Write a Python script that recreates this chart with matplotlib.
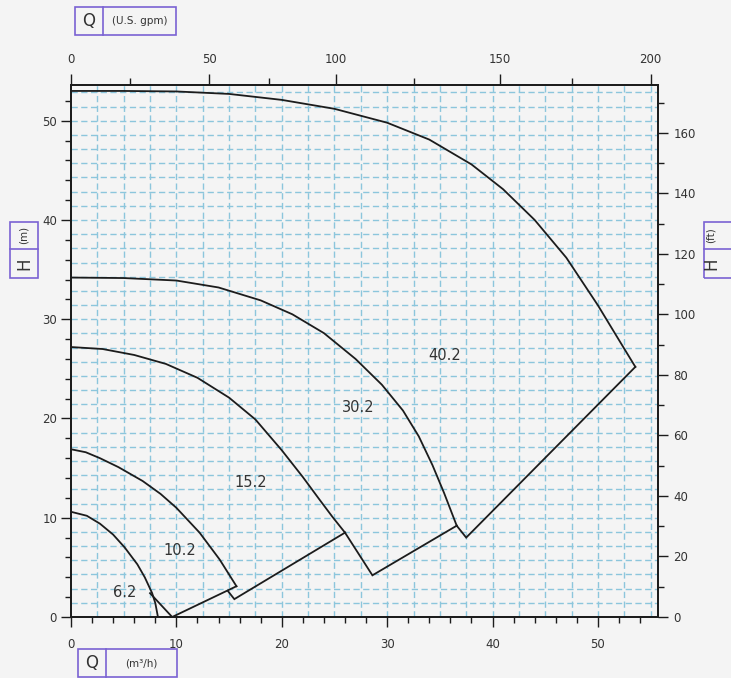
import numpy as np
import matplotlib
matplotlib.use("Agg")
import matplotlib.pyplot as plt
from matplotlib.patches import Rectangle
from matplotlib.ticker import FixedLocator, MultipleLocator

# ---- pump performance curves: flow Q (m3/h) vs head H (m) ----
q_402 = [0, 5, 10, 15, 20, 25, 30, 34, 38, 41, 44, 47, 50, 52, 53.55]
h_402 = [53.0, 53.0, 52.95, 52.7, 52.1, 51.2, 49.8, 48.1, 45.6, 43.1, 40.0, 36.2, 31.4, 27.9, 25.2]

q_302 = [0, 5, 10, 14, 18, 21, 24, 27, 29.5, 31.5, 33, 34.3, 35.4, 36.6]
h_302 = [34.2, 34.15, 33.9, 33.2, 31.9, 30.5, 28.6, 26.0, 23.4, 20.8, 18.2, 15.3, 12.5, 9.2]

q_152 = [0, 3, 6, 9, 12, 15, 17.5, 20, 22, 23.6, 24.8, 26.0]
h_152 = [27.2, 27.0, 26.4, 25.5, 24.1, 22.1, 19.9, 16.8, 14.1, 11.8, 10.1, 8.5]

q_102 = [0, 1.4, 2.75, 4.5, 6.8, 8.5, 10.0, 12.2, 14.1, 15.7]
h_102 = [16.9, 16.6, 16.0, 15.1, 13.7, 12.4, 11.0, 8.5, 5.8, 3.1]

q_62 = [0, 1.5, 2.75, 4.0, 5.1, 6.3, 7.0, 7.7, 8.0, 8.25]
h_62 = [10.6, 10.2, 9.4, 8.3, 7.0, 5.3, 4.0, 2.4, 1.4, 0.0]

# range boundary lines closing each model's operating area
q_402_edge = [53.55, 37.5, 36.6]
h_402_edge = [25.2, 8.0, 9.2]
q_302_edge = [36.6, 28.6, 26.0]
h_302_edge = [9.2, 4.2, 8.5]
q_152_edge = [26.0, 15.5, 14.9]
h_152_edge = [8.5, 1.8, 2.6]
q_102_edge = [15.7, 9.6, 7.5]
h_102_edge = [3.1, 0.0, 2.4]

model_names = ["40.2", "30.2", "15.2", "10.2", "6.2"]
label_q = [35.5, 27.3, 17.1, 10.3, 5.1]
label_h = [26.3, 21.1, 13.6, 6.7, 2.5]

# secondary flow scale in U.S. gpm, and where each tick falls on the m3/h scale
gpm_ticks = [0, 25, 50, 75, 100, 125, 150, 175, 200]
gpm_at_q = [0.0, 5.6, 13.1, 18.8, 25.1, 32.5, 40.7, 47.5, 55.0]
gpm_labels = ["0", "", "50", "", "100", "", "150", "", "200"]

Q_MAX = 55.7
H_MAX = 53.6
M_TO_FT = 3.2808

bg = "#f4f4f4"
ink = "#1c1c1c"
txt = "#333333"
grid_c = "#8cc6dc"
box_c = "#7a62d3"

plt.rcParams["font.family"] = ["DejaVu Sans"]

fig = plt.figure(figsize=(7.31, 6.78), dpi=100, facecolor=bg)
ax = fig.add_axes([71 / 731, 1 - 617 / 678, (658 - 71) / 731, (617 - 85) / 678])
ax.set_facecolor(bg)
ax.set_xlim(0, Q_MAX)
ax.set_ylim(0, H_MAX)

# dashed background grid
dash = (0, (4.5, 2.5))
for gx in np.arange(2.5, Q_MAX, 2.5):
    ax.axvline(gx, color=grid_c, lw=1.0, ls=dash, zorder=1, snap=True)
for gy in np.arange(10 / 7, H_MAX, 10 / 7):
    ax.axhline(gy, color=grid_c, lw=1.0, ls=dash, zorder=1, snap=True)

# curves and area outlines
for q, h in [(q_402, h_402), (q_302, h_302), (q_152, h_152), (q_102, h_102), (q_62, h_62)]:
    ax.plot(q, h, color=ink, lw=1.3, zorder=3, solid_joinstyle="round")
for q, h in [(q_402_edge, h_402_edge), (q_302_edge, h_302_edge),
             (q_152_edge, h_152_edge), (q_102_edge, h_102_edge)]:
    ax.plot(q, h, color=ink, lw=1.3, zorder=3, solid_joinstyle="miter")

for name, lq, lh in zip(model_names, label_q, label_h):
    ax.text(lq, lh, name, fontsize=10.5, color=txt, ha="center", va="center", zorder=4)

# axes styling
for s in ax.spines.values():
    s.set_color(ink)
    s.set_linewidth(1.2)
ax.xaxis.set_major_locator(MultipleLocator(10))
ax.xaxis.set_minor_locator(MultipleLocator(2))
ax.yaxis.set_major_locator(MultipleLocator(10))
ax.yaxis.set_minor_locator(MultipleLocator(2))
ax.tick_params(which="major", direction="out", length=7, width=1.0, colors=ink,
               labelcolor=txt, labelsize=8.5)
ax.tick_params(which="minor", direction="out", length=4, width=1.0, colors=ink)
ax.tick_params(axis="x", which="both", top=False, pad=8)
ax.tick_params(axis="y", which="both", right=False, pad=3)

# top: U.S. gpm
axt = ax.twiny()
axt.set_xlim(ax.get_xlim())
axt.xaxis.set_major_locator(FixedLocator(gpm_at_q))
axt.set_xticklabels(gpm_labels)
axt.tick_params(axis="x", direction="out", length=8, width=1.0, colors=ink,
                labelcolor=txt, labelsize=8.5, pad=6)
for i, t in enumerate(axt.xaxis.get_major_ticks()):
    if gpm_labels[i] == "":
        t.tick2line.set_markersize(5)

# right: head in feet
axr = ax.twinx()
axr.set_ylim(0, H_MAX * M_TO_FT)
axr.yaxis.set_major_locator(MultipleLocator(20))
axr.yaxis.set_minor_locator(MultipleLocator(10))
axr.tick_params(which="major", direction="out", length=7, width=1.0, colors=ink,
                labelcolor=txt, labelsize=8.5, pad=4)
axr.tick_params(which="minor", direction="out", length=4, width=1.0, colors=ink)
for a in (axt, axr):
    for s in a.spines.values():
        s.set_color(ink)
        s.set_linewidth(1.2)


# axis title boxes
def title_box(x0, y0, x1, y1, split, parts, vertical=False):
    W, H = 731.0, 678.0
    fig.patches.append(Rectangle((x0 / W, 1 - y1 / H), (x1 - x0) / W, (y1 - y0) / H,
                                 transform=fig.transFigure, fill=False,
                                 edgecolor=box_c, lw=1.2))
    (s1, c1, f1), (s2, c2, f2) = parts
    if vertical:
        fig.lines.append(plt.Line2D([x0 / W, x1 / W], [1 - split / H] * 2,
                                    transform=fig.transFigure, color=box_c, lw=1.2))
        xc = (x0 + min(x1, W - 13)) / 2 / W if x1 > W else (x0 + x1) / 2 / W
        fig.text(xc, 1 - c1 / H, s1, rotation=90, ha="center", va="center",
                 fontsize=f1, color=txt)
        fig.text(xc, 1 - c2 / H, s2, rotation=90, ha="center", va="center",
                 fontsize=f2, color=txt)
    else:
        fig.lines.append(plt.Line2D([split / W] * 2, [1 - y0 / H, 1 - y1 / H],
                                    transform=fig.transFigure, color=box_c, lw=1.2))
        fig.text(c1 / W, 1 - (y0 + y1) / 2 / H, s1, ha="center", va="center",
                 fontsize=f1, color=txt)
        fig.text(c2 / W, 1 - (y0 + y1) / 2 / H, s2, ha="center", va="center",
                 fontsize=f2, color=txt)


title_box(75, 7, 176, 35, 103, [("Q", 89, 12), ("(U.S. gpm)", 140, 7.5)])
title_box(78, 649, 177, 677, 106, [("Q", 92, 12), ("(m³/h)", 141, 7.5)])
title_box(10, 222, 38, 278, 249, [("(m)", 235, 7.5), ("H", 264, 12)], vertical=True)
title_box(704, 222, 740, 278, 249, [("(ft)", 235, 7.5), ("H", 264, 12)], vertical=True)

fig.savefig("out.png", dpi=100, facecolor=bg)
